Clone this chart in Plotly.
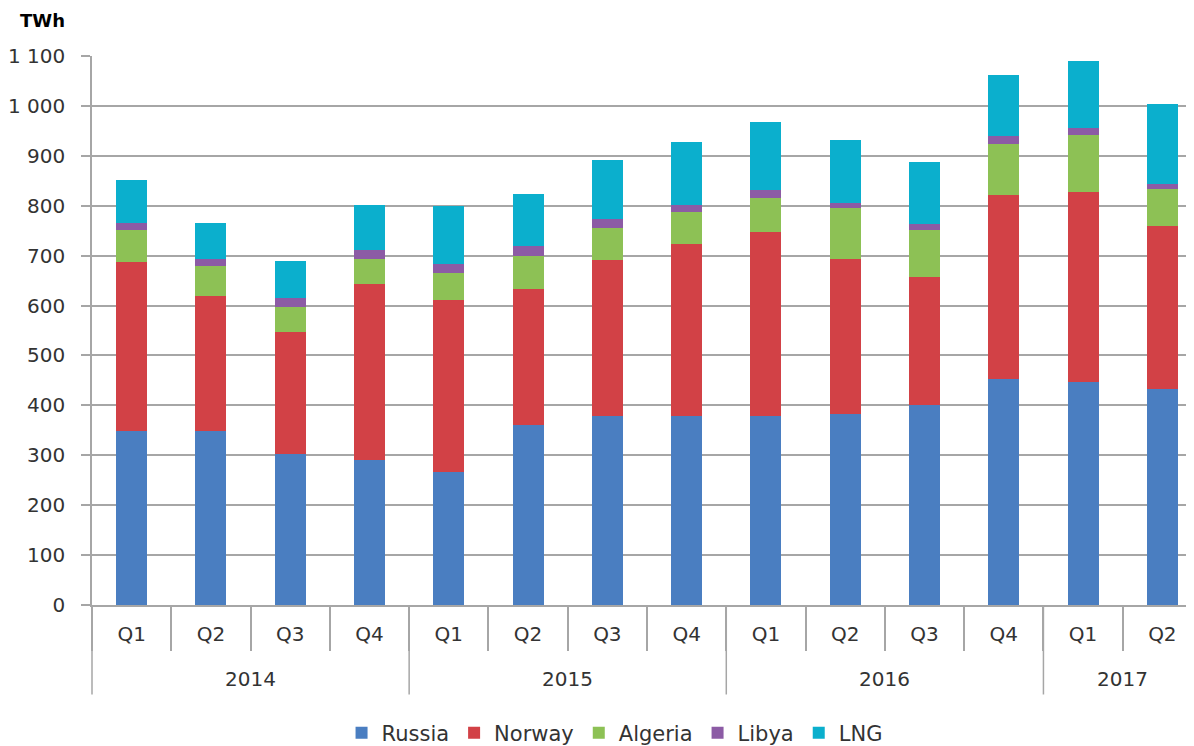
import plotly.graph_objects as go

years = ["2014"] * 4 + ["2015"] * 4 + ["2016"] * 4 + ["2017"] * 2
quarters = ["Q1", "Q2", "Q3", "Q4"] * 3 + ["Q1", "Q2"]

russia = [349, 349, 303, 291, 266, 360, 379, 379, 379, 382, 400, 453, 446, 432]
norway = [338, 270, 244, 353, 345, 273, 312, 344, 369, 312, 258, 368, 382, 327]
algeria = [65, 61, 51, 50, 55, 66, 65, 65, 68, 102, 94, 103, 114, 75]
libya = [14, 14, 17, 18, 18, 20, 18, 14, 15, 9, 11, 15, 14, 10]
lng = [86, 72, 75, 90, 115, 104, 118, 126, 137, 127, 125, 123, 134, 160]

series_names = ["Russia", "Norway", "Algeria", "Libya", "LNG"]
series_values = [russia, norway, algeria, libya, lng]
colors = ["#4A7EC1", "#D24146", "#8DC155", "#8C5BA5", "#0BAFCD"]

y_tickvals = [0, 100, 200, 300, 400, 500, 600, 700, 800, 900, 1000, 1100]
y_ticktext = ["0", "100", "200", "300", "400", "500", "600", "700", "800", "900", "1 000", "1 100"]

FONT = "DejaVu Sans"
GRAY = "#A6A6A6"
TXT = "#333333"

cats = [f"{q} {y}" for q, y in zip(quarters, years)]
n = len(cats)

fig = go.Figure()
for name, vals, col in zip(series_names, series_values, colors):
    fig.add_trace(go.Bar(x=cats, y=vals, name=name,
                         marker=dict(color=col, line=dict(width=0))))

# year group labels and dividers derived from categories
groups = []
for i, y in enumerate(years):
    if groups and groups[-1][0] == y:
        groups[-1][2] = i
    else:
        groups.append([y, i, i])

annotations = [dict(text="<b>TWh</b>", xref="paper", yref="paper",
                    x=0, y=1, xshift=-74, yshift=36,
                    xanchor="left", yanchor="middle", showarrow=False,
                    font=dict(size=18, color="#000000", family=FONT))]
shapes = []
for y, a, b in groups:
    annotations.append(dict(text=y, xref="paper", yref="paper",
                            x=((a + b) / 2 + 0.5) / n, y=0, yshift=-73.5,
                            xanchor="center", yanchor="middle", showarrow=False,
                            font=dict(size=20, color=TXT, family=FONT)))
    shapes.append(dict(type="line", xref="paper", yref="paper",
                       x0=a / n, x1=a / n, y0=0, y1=-0.163,
                       line=dict(color=GRAY, width=1.5)))

fig.update_layout(
    barmode="stack",
    bargap=0.61,
    width=1194, height=746,
    margin=dict(l=84, r=0, t=48, b=148.5),
    plot_bgcolor="white", paper_bgcolor="white",
    font=dict(family=FONT, size=20, color=TXT),
    legend=dict(orientation="h", xref="container", yref="container",
                x=0.508, xanchor="center", y=0.028, yanchor="middle",
                font=dict(size=21, color=TXT), itemwidth=30,
                traceorder="normal"),
    annotations=annotations,
    shapes=shapes,
)
fig.update_xaxes(
    type="category",
    tickmode="array", tickvals=cats, ticktext=quarters,
    showgrid=False, showline=True, linecolor=GRAY, linewidth=1.5,
    ticks="outside", tickson="boundaries", ticklen=44, tickcolor=GRAY, tickwidth=1.5,
    ticklabelstandoff=10,
    tickfont=dict(size=20, color=TXT),
)
fig.update_yaxes(
    range=[0, 1100], tickvals=y_tickvals, ticktext=y_ticktext,
    showgrid=True, gridcolor=GRAY, gridwidth=1.5,
    showline=True, linecolor=GRAY, linewidth=1.5,
    ticks="outside", ticklen=9, tickcolor=GRAY, tickwidth=1.5,
    ticklabelstandoff=12,
    tickfont=dict(size=20, color=TXT), zeroline=False,
)
fig.write_html("out.html")
